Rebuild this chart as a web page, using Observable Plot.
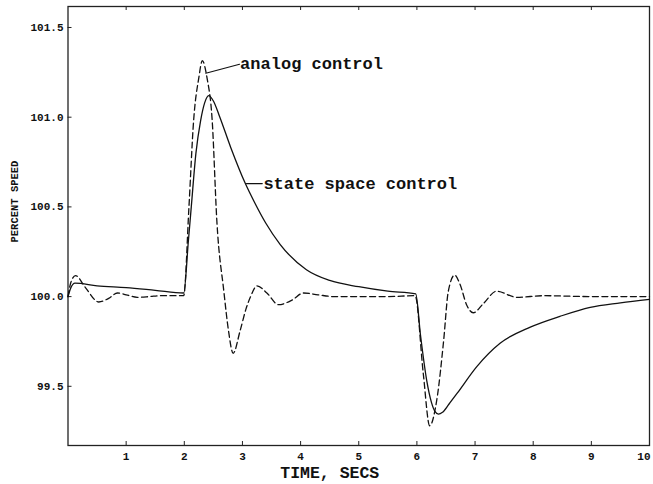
<!DOCTYPE html>
<html>
<head>
<meta charset="utf-8">
<script src="https://cdn.jsdelivr.net/npm/d3@7"></script>
<script src="https://cdn.jsdelivr.net/npm/@observablehq/plot@0.6"></script>
<style>
  body { margin: 0; background: #fff; }
</style>
</head>
<body>
<div id="chart"></div>
<script>
// State space control (solid)
const stateT = [0, 0.05, 0.12, 0.5, 1.0, 1.5, 1.99, 2.07, 2.12, 2.2, 2.28, 2.35, 2.42, 2.5, 2.6, 2.8, 3.05, 3.2, 3.4, 3.65, 4.1, 4.5, 5.0, 5.5, 5.98, 6.06, 6.17, 6.25, 6.31, 6.37, 6.44, 6.55, 6.69, 7.03, 7.43, 7.95, 8.46, 8.98, 9.5, 10];
const stateV = [100.0, 100.05, 100.075, 100.06, 100.05, 100.035, 100.02, 100.31, 100.5, 100.8, 100.98, 101.08, 101.12, 101.09, 101.01, 100.83, 100.63, 100.53, 100.41, 100.29, 100.15, 100.09, 100.055, 100.03, 100.015, 99.79, 99.53, 99.41, 99.36, 99.345, 99.355, 99.4, 99.46, 99.61, 99.74, 99.83, 99.89, 99.94, 99.965, 99.985];

// Analog control (dashed)
const analogT = [0, 0.05, 0.13, 0.3, 0.53, 0.7, 0.85, 1.0, 1.19, 1.4, 1.59, 1.99, 2.08, 2.16, 2.25, 2.31, 2.39, 2.48, 2.56, 2.68, 2.76, 2.84, 2.96, 3.06, 3.14, 3.25, 3.42, 3.62, 3.85, 4.05, 4.3, 4.57, 5.0, 5.5, 5.97, 6.11, 6.22, 6.34, 6.46, 6.54, 6.65, 6.74, 6.86, 6.97, 7.14, 7.37, 7.72, 8.18, 9.0, 10];
const analogV = [100.0, 100.08, 100.117, 100.05, 99.97, 99.99, 100.02, 100.01, 99.996, 100.0, 100.005, 100.005, 100.5, 100.98, 101.22, 101.315, 101.22, 100.98, 100.42, 100.03, 99.81, 99.684, 99.81, 99.93, 100.0, 100.06, 100.02, 99.955, 99.98, 100.02, 100.01, 100.0, 100.0, 100.0, 100.005, 99.57, 99.28, 99.42, 99.755, 100.03, 100.12, 100.07, 99.95, 99.91, 99.96, 100.03, 99.996, 100.005, 100.0, 100.0];

// Axes
const xTicks = [1, 2, 3, 4, 5, 6, 7, 8, 9, 10];
const yTicks = [99.5, 100.0, 100.5, 101.0, 101.5];
const xDomain = [0, 10];
const yDomain = [99.17, 101.617];
const xLabel = "TIME, SECS";
const yLabel = "PERCENT SPEED";

// Annotations
const noteText = ["analog control", "state space control"];
const noteT = [2.96, 3.36];
const noteV = [101.30, 100.63];
const arrowT1 = [2.95, 3.34];
const arrowV1 = [101.295, 100.63];
const arrowT2 = [2.37, 3.07];
const arrowV2 = [101.245, 100.63];

const stateData = stateT.map((t, i) => ({t, v: stateV[i]}));
const analogData = analogT.map((t, i) => ({t, v: analogV[i]}));
const notes = noteText.map((s, i) => ({s, t: noteT[i], v: noteV[i]}));
const arrows = noteText.map((s, i) => ({x1: arrowT1[i], y1: arrowV1[i], x2: arrowT2[i], y2: arrowV2[i], bend: i === 0 ? -25 : 0}));

const W = 653, H = 484, ML = 67.5, MR = 4, MT = 6, MB = 39;
const innerW = W - ML - MR, innerH = H - MT - MB;
const font = "'Liberation Mono', 'DejaVu Sans Mono', monospace";

const chart = Plot.plot({
  width: W, height: H,
  marginLeft: ML, marginRight: MR, marginTop: MT, marginBottom: MB,
  x: {domain: xDomain},
  y: {domain: yDomain},
  style: {fontFamily: font, background: "#fff", color: "#111"},
  marks: [
    Plot.frame({stroke: "#222", strokeWidth: 1.3}),
    Plot.ruleX(xTicks, {x: d => d, insetTop: innerH - 4, stroke: "#222"}),
    Plot.ruleX(xTicks.slice(0, 9), {x: d => d, insetBottom: innerH - 4, stroke: "#222"}),
    Plot.ruleY(yTicks, {y: d => d, insetRight: innerW - 4, stroke: "#222"}),
    Plot.axisX(xTicks.slice(0, 9), {tickSize: 0, tickPadding: 7, fontSize: 11, fontWeight: "bold", label: null}),
    Plot.axisX(xTicks.slice(9), {tickSize: 0, tickPadding: 7, fontSize: 11, fontWeight: "bold", label: null, textAnchor: "end", dx: 1}),
    Plot.axisY(yTicks, {tickSize: 0, tickPadding: 4.5, fontSize: 11, fontWeight: "bold", tickFormat: d => d.toFixed(1), label: null}),
    Plot.text([xLabel], {frameAnchor: "bottom", dx: -29, dy: 32, fontSize: 16.5, fontWeight: "bold", fill: "#111"}),
    Plot.text([yLabel], {frameAnchor: "left", rotate: -90, dx: -53.5, dy: 16.5, fontSize: 10.5, fontWeight: "bold", fill: "#111"}),
    Plot.line(stateData, {x: "t", y: "v", curve: "monotone-x", stroke: "#111", strokeWidth: 1.3}),
    Plot.line(analogData, {x: "t", y: "v", curve: "monotone-x", stroke: "#111", strokeWidth: 1.3, strokeDasharray: "6,3.5"}),
    Plot.text(notes, {x: "t", y: "v", text: "s", textAnchor: "start", fontSize: 17, fontWeight: "bold", fill: "#111"}),
    Plot.arrow(arrows, {x1: "x1", y1: "y1", x2: "x2", y2: "y2", bend: "bend", headLength: 7, headAngle: 50, stroke: "#111", strokeWidth: 1.2})
  ]
});
document.getElementById("chart").append(chart);
</script>
</body>
</html>
